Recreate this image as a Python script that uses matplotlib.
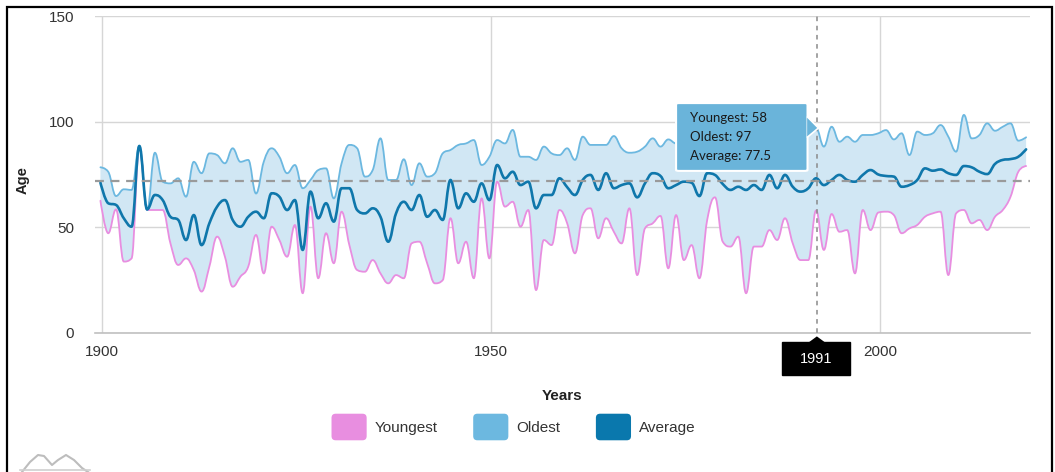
import matplotlib
matplotlib.use('Agg')
import matplotlib.pyplot as plt
import numpy as np
from matplotlib.patches import Rectangle, FancyBboxPatch, Polygon, Patch, PathPatch
from matplotlib.path import Path
from matplotlib.legend_handler import HandlerPatch

# ---------------- data ----------------
years = list(range(1899, 2019))
youngest = [62.6, 47.2, 58.5, 33.8, 35.3, 88.2, 58.2, 58.2, 58.2, 42.4,
            32.2, 35.3, 29.8, 19.6, 31.4, 45.6, 36.1, 21.9, 26.7, 31.4,
            46.4, 28.2, 50.3, 44.0, 36.1, 51.1, 18.8, 59.8, 25.9, 47.2,
            33.0, 57.4, 41.6, 29.8, 29.0, 34.5, 28.2, 23.5, 27.4, 25.9,
            42.4, 43.2, 33.0, 23.5, 25.0, 54.3, 33.0, 43.2, 25.9, 63.7,
            35.3, 71.6, 59.8, 62.1, 50.3, 58.2, 20.3, 44.0, 41.6, 58.2,
            51.9, 37.7, 55.8, 59.0, 44.8, 54.3, 47.9, 42.4, 59.0, 27.4,
            49.5, 51.9, 55.4, 30.6, 55.8, 34.5, 41.6, 25.9, 53.5, 64.2,
            43.2, 40.9, 45.6, 18.8, 40.9, 40.9, 48.7, 44.0, 54.3, 42.4,
            34.5, 34.5, 58.0, 39.3, 56.3, 47.9, 48.7, 28.2, 58.2, 48.7,
            57.0, 57.4, 55.8, 47.2, 49.5, 51.1, 55.0, 56.6, 57.4, 27.4,
            56.6, 58.2, 51.9, 53.5, 48.7, 55.0, 58.2, 64.5, 76.3, 79.0]
oldest = [78.4, 76.3, 64.8, 68.0, 67.7, 88.5, 58.2, 85.3, 71.6, 70.8,
          73.2, 64.5, 81.0, 75.6, 85.0, 84.2, 80.3, 87.4, 81.0, 81.9,
          66.0, 81.1, 87.4, 83.4, 75.6, 79.5, 68.5, 72.4, 77.1, 77.9,
          63.7, 80.3, 89.0, 87.4, 74.0, 77.1, 92.1, 72.4, 72.4, 82.2,
          70.0, 80.3, 74.0, 75.6, 85.0, 86.6, 89.0, 89.7, 91.3, 79.5,
          83.4, 91.3, 89.7, 96.1, 83.4, 83.4, 81.9, 88.2, 85.0, 84.2,
          87.4, 81.9, 92.9, 89.0, 89.0, 89.0, 93.2, 87.4, 85.3, 85.8,
          88.2, 92.1, 88.2, 91.6, 89.7, 92.0, 90.0, 93.0, 95.0, 91.0,
          96.0, 93.0, 90.0, 92.0, 94.0, 91.0, 93.0, 95.0, 92.0, 90.0,
          94.0, 96.0, 97.0, 88.2, 97.6, 90.5, 92.9, 90.5, 93.7, 93.7,
          94.5, 96.0, 91.6, 94.5, 84.2, 95.3, 93.7, 94.5, 98.4, 92.9,
          85.8, 103.2, 92.1, 93.7, 99.2, 95.7, 97.6, 99.2, 91.0, 92.6]
average = [71.1, 61.4, 60.6, 54.3, 50.3, 88.5, 58.5, 65.3, 62.9, 55.0,
           53.5, 44.0, 55.8, 41.6, 51.9, 59.8, 62.9, 53.5, 50.3, 55.0,
           57.4, 54.3, 66.1, 64.5, 58.2, 62.9, 39.3, 66.9, 54.3, 61.4,
           52.7, 68.5, 68.5, 58.2, 56.6, 59.0, 55.0, 43.2, 56.6, 62.1,
           58.2, 65.3, 55.0, 58.2, 53.5, 72.4, 59.0, 66.1, 62.1, 70.8,
           62.9, 79.5, 73.2, 76.3, 70.0, 71.6, 59.0, 65.3, 65.3, 73.2,
           69.0, 65.3, 72.4, 74.8, 67.7, 75.6, 68.5, 70.0, 70.8, 64.2,
           70.8, 75.6, 74.3, 68.5, 70.0, 71.6, 71.1, 64.8, 75.6, 74.8,
           70.5, 67.7, 69.2, 67.7, 70.0, 67.7, 74.8, 68.5, 74.8, 69.2,
           66.9, 68.5, 73.2, 70.0, 72.4, 74.8, 72.4, 71.6, 74.8, 77.1,
           75.0, 74.3, 74.0, 69.2, 70.0, 72.4, 77.9, 76.8, 77.4, 75.6,
           74.8, 79.0, 78.4, 76.3, 75.2, 80.0, 81.9, 82.3, 83.4, 86.9]
overall_average = 72
x_ticks = [1900, 1950, 2000]
y_ticks = [0, 50, 100, 150]
hover_year = 1991
hover_values = [("Youngest", 58), ("Oldest", 97), ("Average", 77.5)]
series_names = ["Youngest", "Oldest", "Average"]

# ---------------- style ----------------
C_YOUNG = '#e88ee0'
C_OLD = '#6cb8e0'
C_AVG = '#0f77ab'
C_FILL = '#d1e7f4'
FONT = 'Liberation Sans'
X_OFF = 0.8  # points sit late in each year

plt.rcParams['font.family'] = [FONT, 'DejaVu Sans']


def spline_vertices(xs, ys, smoothing=1.5):
    """Bezier path vertices passing through every data point (spline style)."""
    xs = np.asarray(xs, float)
    ys = np.asarray(ys, float)
    n = len(xs)
    left = [None] * n
    right = [None] * n
    denom = smoothing + 1
    for i in range(n):
        px, py = xs[i], ys[i]
        if 0 < i < n - 1:
            lx, ly = xs[i - 1], ys[i - 1]
            nx, ny = xs[i + 1], ys[i + 1]
            lcx = (smoothing * px + lx) / denom
            lcy = (smoothing * py + ly) / denom
            rcx = (smoothing * px + nx) / denom
            rcy = (smoothing * py + ny) / denom
            if rcx != lcx:
                corr = (rcy - lcy) * (rcx - px) / (rcx - lcx) + py - rcy
                lcy += corr
                rcy += corr
            if lcy > ly and lcy > py:
                lcy = max(ly, py)
                rcy = 2 * py - lcy
            elif lcy < ly and lcy < py:
                lcy = min(ly, py)
                rcy = 2 * py - lcy
            if rcy > ny and rcy > py:
                rcy = max(ny, py)
                lcy = 2 * py - rcy
            elif rcy < ny and rcy < py:
                rcy = min(ny, py)
                lcy = 2 * py - rcy
            left[i] = (lcx, lcy)
            right[i] = (rcx, rcy)
        else:
            left[i] = (px, py)
            right[i] = (px, py)
    verts = [(xs[0], ys[0])]
    for i in range(1, n):
        verts += [right[i - 1], left[i], (xs[i], ys[i])]
    return verts


def spline_codes(n):
    return [Path.MOVETO] + [Path.CURVE4] * (3 * (n - 1))


W, H = 1055, 472
fig = plt.figure(figsize=(W / 100, H / 100), dpi=100)
fig.patch.set_facecolor('white')
ax = fig.add_axes([95 / W, 1 - 333 / H, (1030 - 95) / W, (333 - 16) / H])

x = np.array(years) + X_OFF
n = len(x)
v_old = spline_vertices(x, oldest)
v_young = spline_vertices(x, youngest)
v_avg = spline_vertices(x, average)

# range fill between youngest and oldest
fill_verts = v_old + [v_young[-1]] + v_young[::-1][1:] + [v_old[0]]
fill_codes = (spline_codes(n) + [Path.LINETO] + [Path.CURVE4] * (3 * (n - 1))
              + [Path.CLOSEPOLY])
ax.add_patch(PathPatch(Path(fill_verts, fill_codes), fc=C_FILL, ec='none', zorder=1))

for verts, col, lw, z in [(v_young, C_YOUNG, 1.3, 3), (v_old, C_OLD, 1.3, 3),
                          (v_avg, C_AVG, 1.9, 4)]:
    ax.add_patch(PathPatch(Path(verts, spline_codes(n)), fc='none', ec=col,
                           lw=lw, zorder=z, capstyle='round', joinstyle='round'))

ax.axhline(overall_average, color='#9a9a9a', lw=1.6, dashes=(4, 3), zorder=5)

ax.set_xlim(1899.1, 2019.3)
ax.set_ylim(0, 150)
ax.set_xticks(x_ticks)
ax.set_yticks(y_ticks)
ax.tick_params(axis='both', length=0, labelsize=11, labelcolor='#333333')
ax.tick_params(axis='x', pad=9)
ax.tick_params(axis='y', pad=15)
ax.grid(True, color='#d6d6d6', lw=1, zorder=0)
ax.set_axisbelow(True)
for s in ['left', 'right', 'top']:
    ax.spines[s].set_visible(False)
ax.spines['bottom'].set_color('#c0c0c0')
ax.spines['bottom'].set_linewidth(1.2)

ax.set_ylabel('Age', fontweight='bold', fontsize=10.5, color='#222')
ax.yaxis.set_label_coords(-0.0695, 0.483)
ax.set_xlabel('Years', fontweight='bold', fontsize=11, color='#222')
ax.xaxis.set_label_coords(0.4995, -0.177)

# crosshair
xc = hover_year + X_OFF + 0.1
ax.plot([xc, xc], [-4.3, 150], color='#8a8a8a', lw=1.1, dashes=(3, 3),
        clip_on=False, zorder=6)
# year label under axis
bx0, bx1 = 1987.4, 1996.1
ax.add_patch(Rectangle((bx0, -19.9), bx1 - bx0, 15.6, fc='black', ec='black',
                       clip_on=False, zorder=7))
ax.add_patch(Polygon([[xc - 1.0, -4.3], [xc + 1.0, -4.3], [xc, -1.6]],
                     closed=True, fc='black', ec='none', clip_on=False, zorder=7))
ax.text((bx0 + bx1) / 2, -12.1, str(hover_year), color='white', fontsize=10.5,
        ha='center', va='center', zorder=8, clip_on=False)

# tooltip
tx0, tx1, ty0, ty1 = 1973.8, 1990.7, 76.7, 108.8
ax.add_patch(FancyBboxPatch((tx0, ty0), tx1 - tx0, ty1 - ty0,
                            boxstyle='round,pad=0,rounding_size=0.4',
                            fc='#6ab4da', ec='white', lw=1.5, zorder=9))
ax.add_patch(Polygon([[tx1 - 0.05, 102.2], [xc + 0.2, 97.0], [tx1 - 0.05, 92.7]],
                     closed=True, fc='#6ab4da', ec='none', zorder=10))
ax.plot([tx1, xc + 0.2, tx1], [102.2, 97.0, 92.7], color='white', lw=1.2, zorder=10)
for k, (name, val) in enumerate(hover_values):
    ax.text(tx0 + 1.8, 101.7 - k * 8.95, f"{name}: {val:g}", fontsize=9.5,
            family=['Lato', 'DejaVu Sans'], color='#1a1a1a', va='center',
            ha='left', zorder=11)


# legend with rounded squares
class RoundHandler(HandlerPatch):
    def create_artists(self, legend, orig_handle, xdescent, ydescent, width,
                       height, fontsize, trans):
        p = FancyBboxPatch((-xdescent, -ydescent), width, height,
                           boxstyle='round,pad=0,rounding_size=3',
                           fc=orig_handle.get_facecolor(), ec='none',
                           transform=trans)
        return [p]


handles = [Patch(fc=C_YOUNG), Patch(fc=C_OLD), Patch(fc='#0a78ad')]
fig.legend(handles, series_names, loc='center', ncol=3, frameon=False,
           bbox_to_anchor=(0.487, 1 - 427 / H), fontsize=11,
           handlelength=2.3, handleheight=2.3, handletextpad=0.55,
           columnspacing=2.3, labelcolor='#333333',
           handler_map={Patch: RoundHandler()})

# outer frame
fig.patches.append(Rectangle((7 / W, -0.05), (1052 - 7) / W, 1 - 7 / H + 0.05,
                             transform=fig.transFigure, fill=False,
                             ec='black', lw=1.6))

# faint logo mark at bottom-left
logo = [(22, 472), (30, 462), (38, 455), (44, 456), (52, 465), (58, 460),
        (66, 455), (74, 460), (82, 468), (88, 472)]
fig.lines.append(plt.Line2D([p[0] / W for p in logo], [1 - p[1] / H for p in logo],
                            transform=fig.transFigure, color='#bdbdbd', lw=1.5))
fig.lines.append(plt.Line2D([20 / W, 90 / W], [1 - 470 / H, 1 - 470 / H],
                            transform=fig.transFigure, color='#d0d0d0', lw=1.2))

fig.savefig('out.png', dpi=100)
